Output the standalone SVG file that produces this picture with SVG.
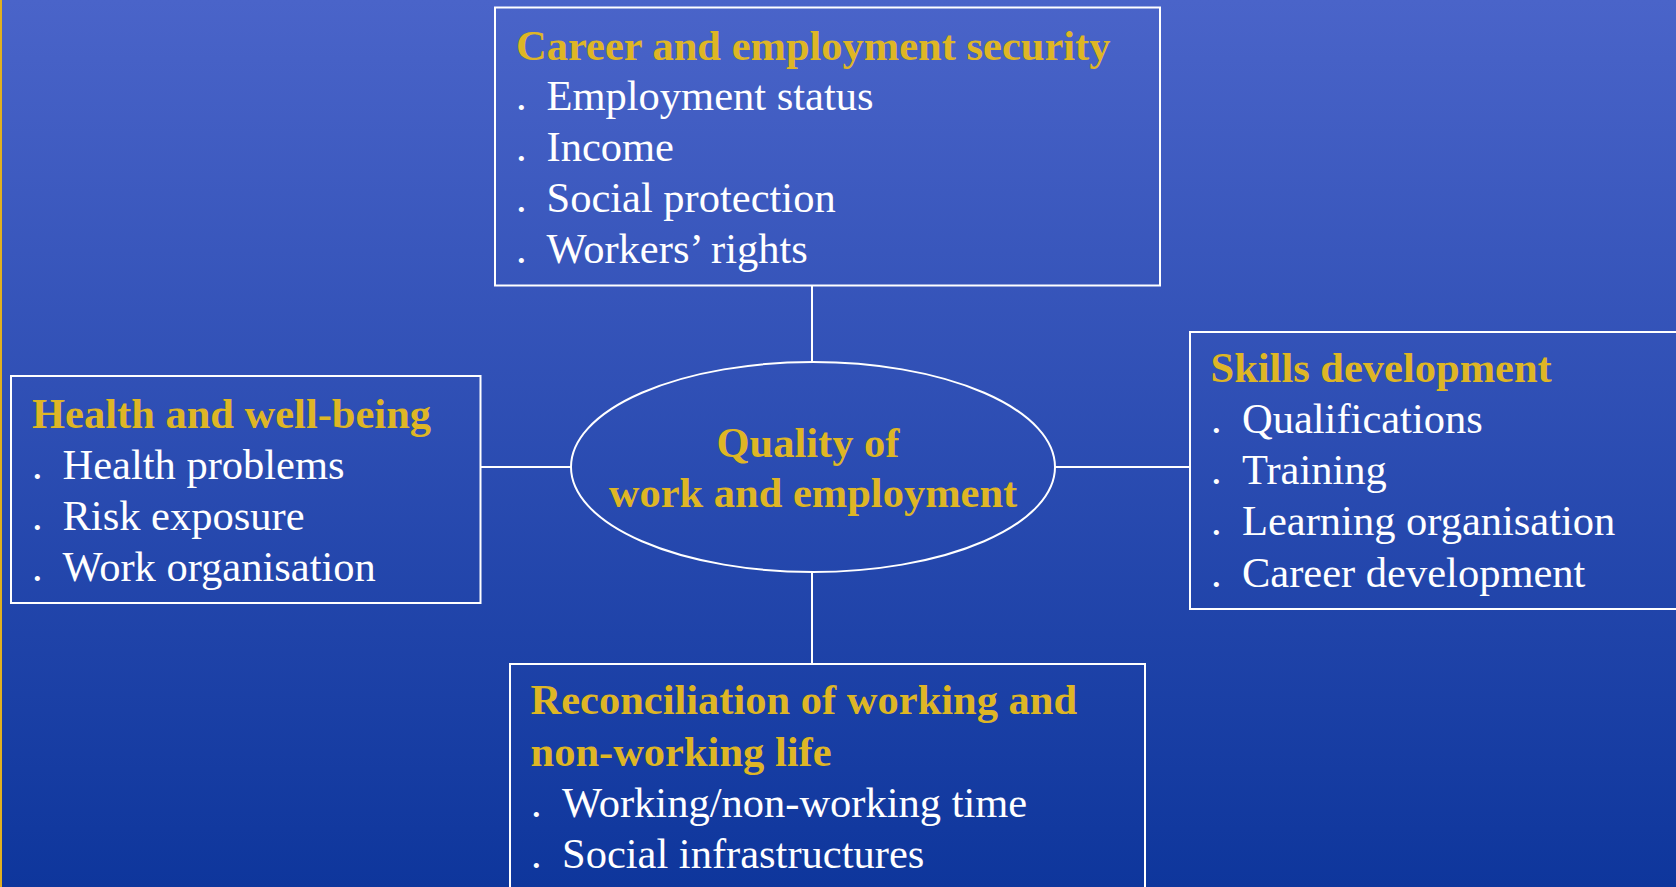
<svg xmlns="http://www.w3.org/2000/svg" width="1676" height="887" viewBox="0 0 1676 887">
<defs>
<linearGradient id="bg" x1="0" y1="0" x2="0" y2="1">
<stop offset="0" stop-color="#4A64C9"/>
<stop offset="1" stop-color="#0E369C"/>
</linearGradient>
<style>
.box{fill:none;stroke:#FFFFFF;stroke-width:2}
.conn{stroke:#FFFFFF;stroke-width:2;fill:none}
.t{font-family:"Liberation Serif","Times New Roman",serif;font-size:42.5px;fill:#FFFFFF}
.h{font-family:"Liberation Serif","Times New Roman",serif;font-size:42.5px;font-weight:bold;fill:#DEB625}
</style>
</defs>
<rect x="0" y="0" width="1676" height="887" fill="url(#bg)"/>
<rect x="0" y="0" width="2" height="887" fill="#E0B020"/>
<g id="connectors">
<line class="conn" x1="812" y1="286" x2="812" y2="362"/>
<line class="conn" x1="812" y1="572" x2="812" y2="664"/>
<line class="conn" x1="481" y1="467" x2="571" y2="467"/>
<line class="conn" x1="1055" y1="467" x2="1190" y2="467"/>
</g>
<g id="center">
<ellipse class="box" cx="813" cy="467" rx="242" ry="105"/>
<text class="h" x="808" y="457" text-anchor="middle">Quality of</text>
<text class="h" x="813" y="507" text-anchor="middle">work and employment</text>
</g>
<g id="career">
<rect class="box" x="495" y="7.5" width="665" height="278"/>
<text class="h" x="516" y="60">Career and employment security</text>
<text class="t" x="516" y="110">.</text><text class="t" x="546.5" y="110">Employment status</text>
<text class="t" x="516" y="161">.</text><text class="t" x="546.5" y="161">Income</text>
<text class="t" x="516" y="212">.</text><text class="t" x="546.5" y="212">Social protection</text>
<text class="t" x="516" y="263">.</text><text class="t" x="546.5" y="263">Workers’ rights</text>
</g>
<g id="health">
<rect class="box" x="11" y="376" width="469.5" height="227"/>
<text class="h" x="32" y="428">Health and well-being</text>
<text class="t" x="32" y="479">.</text><text class="t" x="62.5" y="479">Health problems</text>
<text class="t" x="32" y="530">.</text><text class="t" x="62.5" y="530">Risk exposure</text>
<text class="t" x="32" y="581">.</text><text class="t" x="62.5" y="581">Work organisation</text>
</g>
<g id="skills">
<rect class="box" x="1190" y="332" width="500" height="277"/>
<text class="h" x="1210.5" y="382">Skills development</text>
<text class="t" x="1211" y="433">.</text><text class="t" x="1242" y="433">Qualifications</text>
<text class="t" x="1211" y="484">.</text><text class="t" x="1242" y="484">Training</text>
<text class="t" x="1211" y="535">.</text><text class="t" x="1242" y="535">Learning organisation</text>
<text class="t" x="1211" y="587">.</text><text class="t" x="1242" y="587">Career development</text>
</g>
<g id="reconciliation">
<rect class="box" x="510" y="664" width="635" height="240"/>
<text class="h" x="530.5" y="714">Reconciliation of working and</text>
<text class="h" x="530.5" y="766">non-working life</text>
<text class="t" x="531" y="817">.</text><text class="t" x="562" y="817">Working/non-working time</text>
<text class="t" x="531" y="868">.</text><text class="t" x="562" y="868">Social infrastructures</text>
</g>
</svg>
